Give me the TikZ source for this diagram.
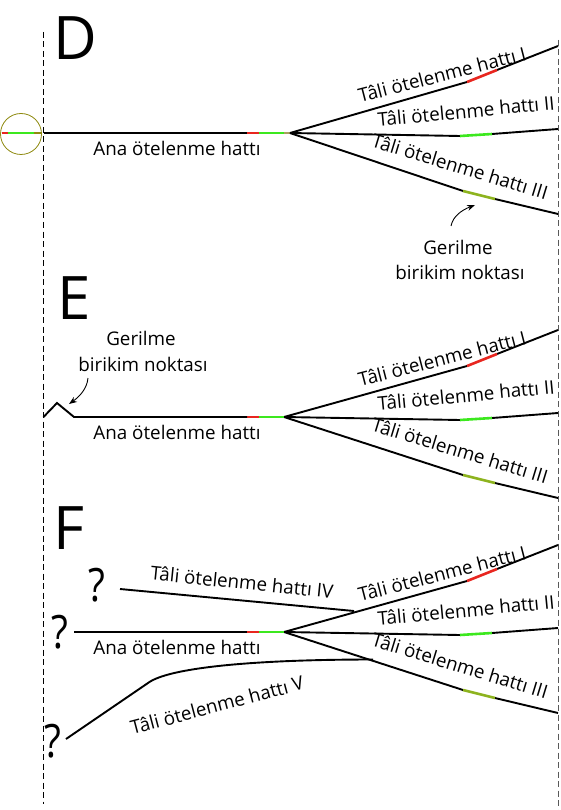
\documentclass[tikz,border=0pt]{standalone}
\usepackage{fontspec}
\setmainfont{Open Sans}
\usetikzlibrary{arrows.meta}
\definecolor{fred}{HTML}{E8261F}
\definecolor{fgreen}{HTML}{3CE81E}
\definecolor{folive}{HTML}{8DB31E}
\definecolor{ftan}{HTML}{A8A060}
\definecolor{fring}{HTML}{8F8A10}
\tikzset{
  fault/.style={line width=1.9pt,black},
  seg/.style={line width=2.6pt},
  guide/.style={line width=0.9pt,dash pattern=on 6pt off 3.5pt},
  lbl/.style={inner sep=0pt,font=\fontsize{18.8}{22}\selectfont},
  big/.style={inner sep=0pt,font=\fontsize{60}{60}\selectfont},
  qm/.style={inner sep=0pt,font=\fontsize{46}{46}\selectfont},
  note/.style={line width=0.9pt,-{Stealth[length=8pt,width=6pt]}}
}
\newcommand{\branchset}[1]{%
  \coordinate (o) at (#1,133);
  \coordinate (a1) at (467,82);\coordinate (a2) at (497,70);\coordinate (a3) at (558,46);
  \coordinate (b1) at (460,136);\coordinate (b2) at (492,134);\coordinate (b3) at (558,129);
  \coordinate (c1) at (463,191);\coordinate (c2) at (495,199);\coordinate (c3) at (558,214);
  \draw[fault] (o) -- (a1) (a2) -- (a3);
  \draw[seg,fred] (a1) -- (a2);
  \draw[fault] (o) -- (b1) (b2) -- (b3);
  \draw[seg,fgreen] (b1) -- (b2);
  \draw[fault] (o) -- (c1) (c2) -- (c3);
  \draw[seg,folive] (c1) -- (c2);
  \draw[seg,fred] (247,133) -- (259,133);
  \draw[seg,fgreen] (259,133) -- (284,133);
  \node[lbl,rotate=14.5] (la) at (442,74.5) {Tâli ötelenme hattı I};
  \node[lbl,rotate=5.4] (lb) at (466,111) {Tâli ötelenme hattı II};
  \node[lbl,rotate=-17] (lc) at (460,166.5) {Tâli ötelenme hattı III};
  \node[lbl] (ana) at (177,148) {Ana ötelenme hattı};
}
\newcommand{\qmark}{\scalebox{0.85}[1]{?}}
\begin{document}
\begin{tikzpicture}[x=1pt,y=-1pt]
\useasboundingbox (0,0) rectangle (560,810);
\fill[white] (0,0) rectangle (560,810);
\coordinate (gl1) at (43.5,32);\coordinate (gl2) at (43.5,804);
\coordinate (gr1) at (558.7,40);\coordinate (gr2) at (558.7,810);
\draw[guide] (gl1) -- (gl2);
\draw[guide,black!65] (gr1) -- (gr2);
% D
\node[big] (D) at (75,38) {D};
\draw[fault] (43.5,133) -- (247,133);
\draw[seg,ftan] (284,133) -- (290,133);
\branchset{290}
\coordinate (ringc) at (21,134);
\node[draw=fring,line width=0.8pt,circle,minimum size=41pt,inner sep=0pt] (ring) at (ringc) {};
\draw[line width=2.6pt,fred] (1.5,133) -- (8,133);
\draw[line width=2.6pt,fgreen] (8,133) -- (34,133);
\draw[line width=2.6pt,fring] (34,133) -- (42,133);
\node[lbl] (g1) at (458,247) {Gerilme};
\node[lbl] (g2) at (460,272) {birikim noktası};
\coordinate (ga) at (451,226);\coordinate (gb) at (475,205);
\draw[note] (ga) .. controls (453,216) and (462,210) .. (gb);
% E
\node[big] (E) at (74,298) {E};
\begin{scope}[yshift=-284pt]
\branchset{284}
\end{scope}
\coordinate (z0) at (43.5,417);\coordinate (z1) at (57,403);\coordinate (z2) at (74,417);\coordinate (z3) at (247,417);
\draw[fault,line join=miter] (z0) -- (z1) -- (z2) -- (z3);
\node[lbl] (h1) at (141,338) {Gerilme};
\node[lbl] (h2) at (143,364) {birikim noktası};
\coordinate (ha) at (88,378);\coordinate (hb) at (69,404);
\draw[note] (ha) .. controls (87,389) and (79,397) .. (hb);
% F
\node[big] (F) at (69,528) {F};
\begin{scope}[yshift=-499pt]
\branchset{284}
\end{scope}
\coordinate (m0) at (74,632);\coordinate (m1) at (247,632);
\draw[fault] (m0) -- (m1);
\coordinate (p0) at (120,589);\coordinate (p1) at (354,611);
\draw[fault] (p0) -- (p1);
\coordinate (q0) at (66,739);\coordinate (q1) at (373,659.5);
\draw[fault] (q0) -- (148,683) .. controls (168,668) and (250,659.5) .. (q1);
\node[qm] (q-a) at (97,585) {\qmark};
\node[qm] (q-b) at (60,632) {\qmark};
\node[qm] (q-c) at (53,741) {\qmark};
\node[lbl,rotate=-5.8] (l4) at (242,582) {Tâli ötelenme hattı IV};
\node[lbl,rotate=14.8] (l5) at (217,705) {Tâli ötelenme hattı V};
\end{tikzpicture}
\end{document}
